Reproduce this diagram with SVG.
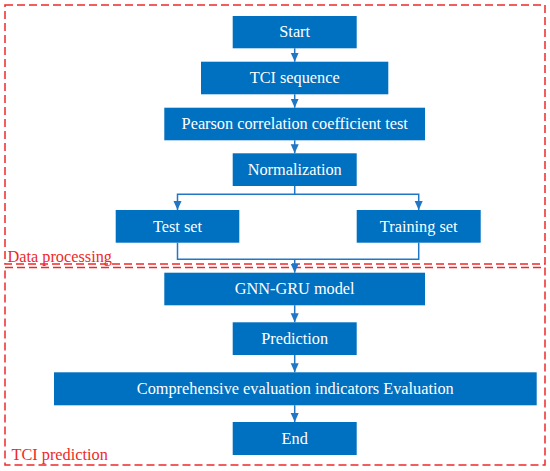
<svg xmlns="http://www.w3.org/2000/svg" width="550" height="471" viewBox="0 0 550 471">
<defs>
<marker id="arr" markerUnits="userSpaceOnUse" markerWidth="10" markerHeight="9" refX="9" refY="4" orient="auto">
<path d="M0,0 L9,4 L0,8 z" fill="#2176C6"/>
</marker>
<style>
.node rect{fill:#0070C0;}
.node text{fill:#ffffff;font-family:"Liberation Serif","Times New Roman",serif;font-size:16.3px;text-anchor:middle;}
.conn path{fill:none;stroke:#2176C6;stroke-width:1.5;}
.region rect{fill:none;stroke:#F02828;stroke-width:1.5;stroke-dasharray:8 4;}
.region text{fill:#F02828;font-family:"Liberation Serif","Times New Roman",serif;font-size:16.3px;}
</style>
</defs>
<rect width="550" height="471" fill="#ffffff"/>
<g id="region-data" class="region">
<rect x="5" y="5" width="540" height="259"/>
<text x="7.5" y="261.5">Data processing</text>
</g>
<g id="region-tci" class="region">
<rect x="5" y="267.5" width="540" height="197.5"/>
<text x="11.5" y="460">TCI prediction</text>
</g>
<g class="conn" id="connectors">
<path d="M294.7,48.3 V61.7" marker-end="url(#arr)"/>
<path d="M294.7,94.3 V107.7" marker-end="url(#arr)"/>
<path d="M294.7,140.3 V153.3" marker-end="url(#arr)"/>
<path d="M294.7,186 V194.3 H177.5 V210" marker-end="url(#arr)"/>
<path d="M294.7,194.3 H418.7 V210" marker-end="url(#arr)"/>
<path d="M177.5,242.7 V259.3 H418.7 V242.7"/>
<path d="M294.7,259.3 V272.7" marker-end="url(#arr)"/>
<path d="M294.7,305.3 V322.3" marker-end="url(#arr)"/>
<path d="M294.7,355 V372.3" marker-end="url(#arr)"/>
<path d="M294.7,405.3 V422" marker-end="url(#arr)"/>
</g>
<g id="start" class="node"><rect x="232.7" y="16" width="124" height="32.3"/><text x="294.7" y="37.4">Start</text></g>
<g id="tci-sequence" class="node"><rect x="201" y="61.7" width="187.3" height="32.6"/><text x="294.7" y="83.2">TCI sequence</text></g>
<g id="pearson" class="node"><rect x="164.3" y="107.7" width="260.7" height="32.6"/><text x="294.7" y="129.2">Pearson correlation coefficient test</text></g>
<g id="normalization" class="node"><rect x="232.7" y="153.3" width="124" height="32.7"/><text x="294.7" y="174.9">Normalization</text></g>
<g id="test-set" class="node"><rect x="115.7" y="210" width="123.6" height="32.7"/><text x="177.5" y="231.6">Test set</text></g>
<g id="training-set" class="node"><rect x="356.7" y="210" width="124" height="32.7"/><text x="418.7" y="231.6">Training set</text></g>
<g id="gnn-gru" class="node"><rect x="164.3" y="272.7" width="260.7" height="32.6"/><text x="294.7" y="294.2">GNN-GRU model</text></g>
<g id="prediction" class="node"><rect x="232.7" y="322.3" width="124" height="32.7"/><text x="294.7" y="343.9">Prediction</text></g>
<g id="evaluation" class="node"><rect x="54" y="372.3" width="482.7" height="33"/><text x="295.3" y="394">Comprehensive evaluation indicators Evaluation</text></g>
<g id="end" class="node"><rect x="232.7" y="422" width="124" height="33"/><text x="294.7" y="443.7">End</text></g>
</svg>
